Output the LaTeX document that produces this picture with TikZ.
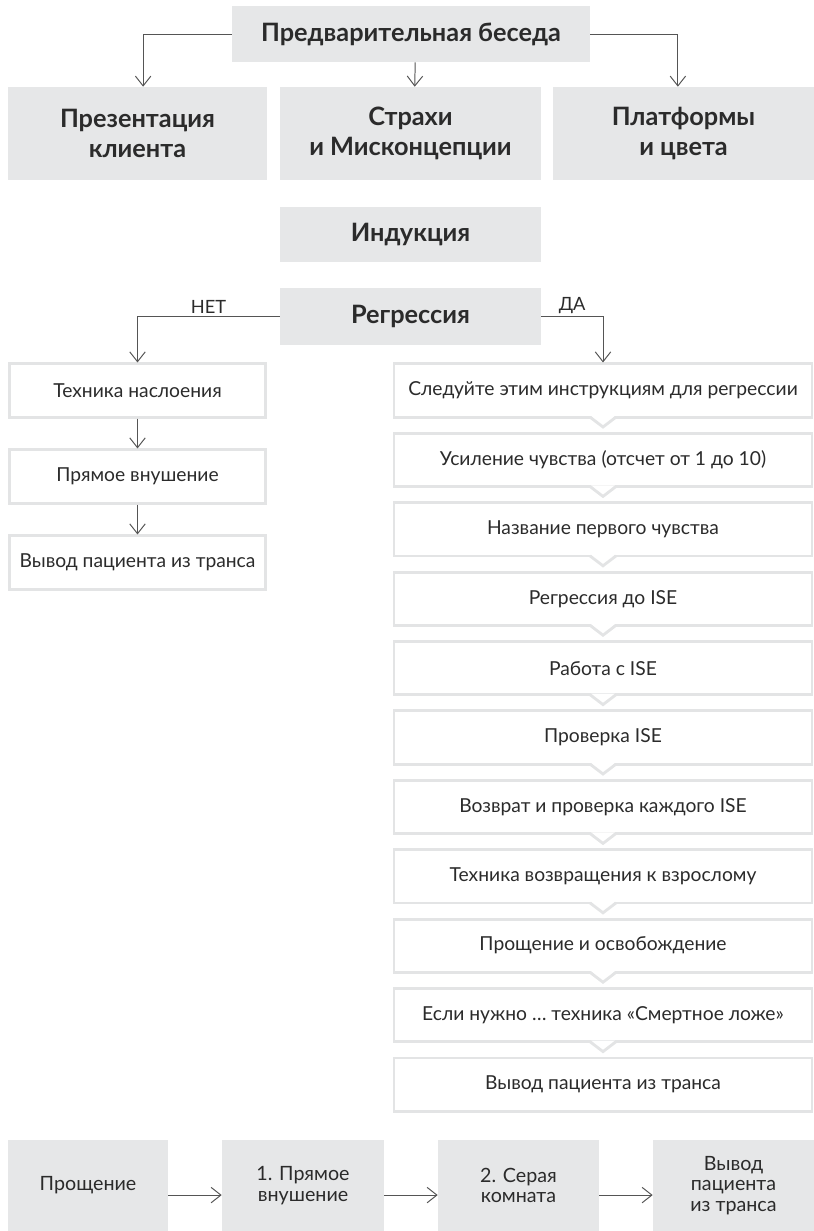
\documentclass[tikz,border=0pt]{standalone}
\usepackage{fontspec}
\setmainfont{Lato}
\usetikzlibrary{arrows.meta}
\definecolor{fond}{HTML}{E6E7E8}
\definecolor{trait}{HTML}{E3E4E5}
\definecolor{texte}{HTML}{2B2B2B}
\definecolor{ligne}{HTML}{555555}

\begin{document}
\begin{tikzpicture}[x=0.025cm,y=-0.025cm]
\tikzstyle{bloc}=[fill=fond, text=texte, font=\fontsize{18}{21.5}\selectfont\bfseries, align=center, inner sep=0pt];
\tikzstyle{etape}=[draw=trait, line width=2pt, fill=white, text=texte, font=\fontsize{13.7}{16}\selectfont, minimum height=1.33cm, inner sep=0pt];
\tikzstyle{petit}=[fill=fond, text=texte, font=\fontsize{14}{14.4}\selectfont, align=center, minimum height=2.275cm, inner sep=0pt];
\tikzstyle{fleche}=[draw=ligne, line width=0.7pt, -{Straight Barb[length=7pt,width=11pt]}];
\tikzstyle{etiq}=[text=texte, font=\fontsize{13}{15}\selectfont, inner sep=2pt];
\useasboundingbox (0,0) rectangle (814,1231);

% en-tete
\node[bloc, minimum width=8.95cm, minimum height=1.4cm] (pre) at (411,34) {Предварительная беседа};
\node[bloc, minimum width=6.475cm, minimum height=2.325cm] (pres) at (137.5,133.5) {Презентация\\клиента};
\node[bloc, minimum width=6.525cm, minimum height=2.325cm] (peur) at (410.5,133.5) {Страхи\\и Мисконцепции};
\node[bloc, minimum width=6.525cm, minimum height=2.325cm] (plat) at (683.5,133.5) {Платформы\\и цвета};
\node[bloc, minimum width=6.525cm, minimum height=1.375cm] (ind) at (410.5,234.5) {Индукция};
\node[bloc, minimum width=6.525cm, minimum height=1.425cm] (reg) at (410.5,316.5) {Регрессия};

% branche НЕТ
\node[etape, minimum width=6.4cm] (n1) at (137.5,390.5) {Техника наслоения};
\node[etape, minimum width=6.4cm] (n2) at (137.5,476.5) {Прямое внушение};
\node[etape, minimum width=6.4cm] (n3) at (137.5,562.5) {Вывод пациента из транса};

% branche ДА
\node[etape, minimum width=10.45cm] (s1) at (603,390.5) {Следуйте этим инструкциям для регрессии};
\node[etape, minimum width=10.45cm] (s2) at (603,459.9) {Усиление чувства (отсчет от 1 до 10)};
\node[etape, minimum width=10.45cm] (s3) at (603,529.3) {Название первого чувства};
\node[etape, minimum width=10.45cm] (s4) at (603,598.7) {Регрессия до ISE};
\node[etape, minimum width=10.45cm] (s5) at (603,668.1) {Работа с ISE};
\node[etape, minimum width=10.45cm] (s6) at (603,737.5) {Проверка ISE};
\node[etape, minimum width=10.45cm] (s7) at (603,806.9) {Возврат и проверка каждого ISE};
\node[etape, minimum width=10.45cm] (s8) at (603,876.3) {Техника возвращения к взрослому};
\node[etape, minimum width=10.45cm] (s9) at (603,945.7) {Прощение и освобождение};
\node[etape, minimum width=10.45cm] (s10) at (603,1015.1) {Если нужно … техника «Смертное ложе»};
\node[etape, minimum width=10.45cm] (s11) at (603,1084.5) {Вывод пациента из транса};

\foreach \i in {1,...,10} {
  \fill[white] (s\i.south) ++(-12,-2.6) -- ++(12,10.6) -- ++(12,-10.6) -- cycle;
  \draw[trait, line width=2pt] (s\i.south) ++(-13,-1.4) -- ++(13,9.9) -- ++(13,-9.9);
}

% bas
\node[petit, minimum width=4cm] (b1) at (88,1185.5) {Прощение};
\node[petit, minimum width=4.05cm] (b2) at (303,1185.5) {1. Прямое\\внушение};
\node[petit, minimum width=4.025cm] (b3) at (518.5,1185.5) {2. Серая\\комната};
\node[petit, minimum width=4.025cm] (b4) at (733.5,1185.5) {Вывод\\пациента\\из транса};

\draw[fleche] (pre.west) -| ([xshift=4pt]pres.north);
\draw[fleche] ([xshift=3pt]pre.south) -- ([xshift=3pt]peur.north);
\draw[fleche] (pre.east) -| ([xshift=-4pt]plat.north);

\draw[fleche] (reg.west) -| node[pos=0.25, above, etiq] {НЕТ} (n1.north);
\draw[fleche] (reg.east) -| node[pos=0.25, above, etiq] {ДА} (s1.north);
\draw[fleche] (n1) -- (n2);
\draw[fleche] (n2) -- (n3);

\draw[fleche] ([yshift=-6.8pt]b1.east) -- ([yshift=-6.8pt]b2.west);
\draw[fleche] ([yshift=-6.8pt]b2.east) -- ([yshift=-6.8pt]b3.west);
\draw[fleche] ([yshift=-6.8pt]b3.east) -- ([yshift=-6.8pt]b4.west);
\end{tikzpicture}
\end{document}
